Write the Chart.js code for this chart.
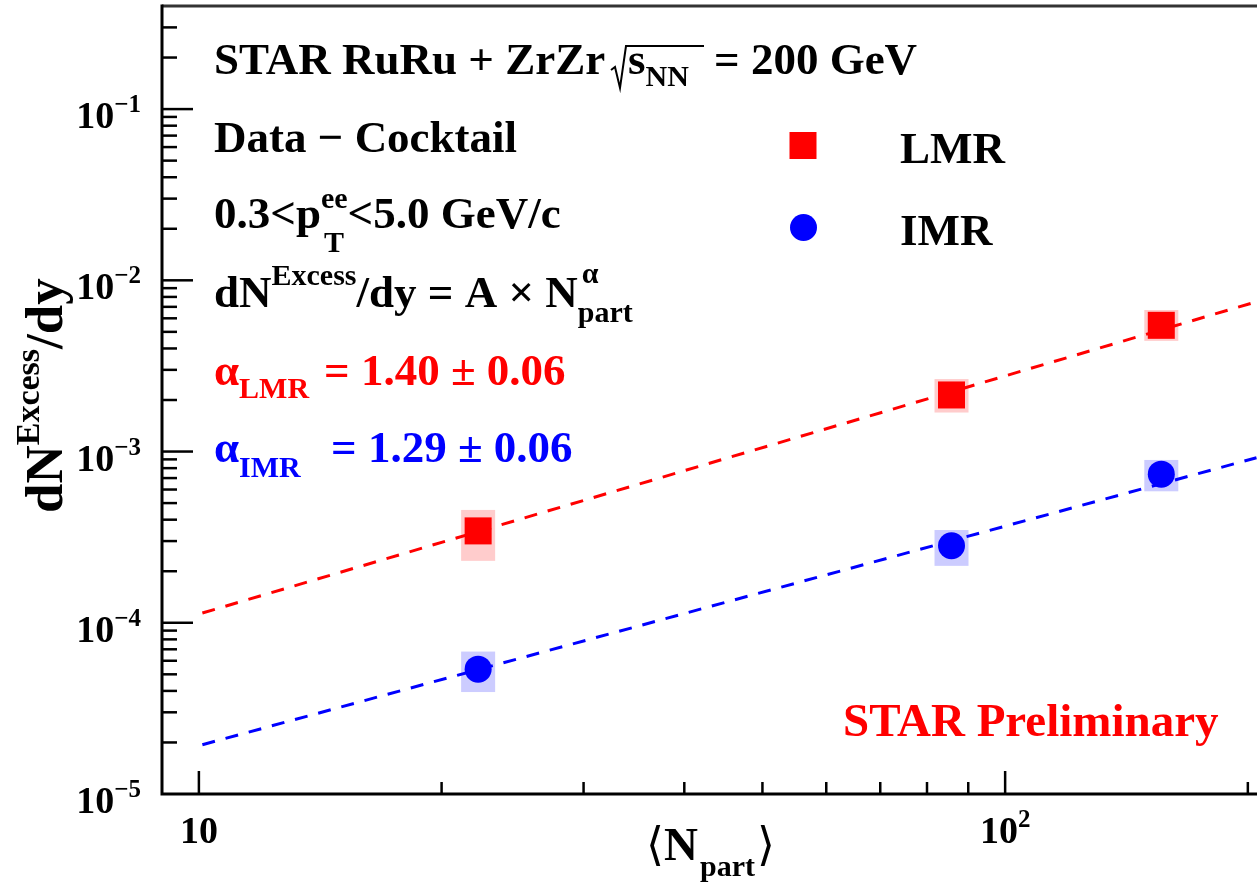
<!DOCTYPE html>
<html>
<head>
<meta charset="utf-8">
<script src="https://cdn.jsdelivr.net/npm/chart.js@4.4.0/dist/chart.umd.min.js"></script>
<style>
  html, body { margin: 0; padding: 0; background: #fff; overflow: hidden; }
  #wrap { width: 1257px; height: 887px; position: relative; }
</style>
</head>
<body>
<div id="wrap"><canvas id="c" width="1257" height="887"></canvas></div>
<script>
// <N_part> of the three centrality classes
const nPart = [22.2, 85.8, 156.2];

// LMR excess yield with systematic band
const lmrYield   = [3.44e-4, 2.14e-3, 5.46e-3];
const lmrSysLow  = [2.30e-4, 1.69e-3, 4.43e-3];
const lmrSysHigh = [4.56e-4, 2.65e-3, 6.71e-3];

// IMR excess yield with systematic band
const imrYield   = [5.36e-5, 2.82e-4, 7.38e-4];
const imrSysLow  = [3.94e-5, 2.15e-4, 5.86e-4];
const imrSysHigh = [6.79e-5, 3.48e-4, 8.93e-4];

// Power-law fits A x N^alpha (straight in log-log), end points
const fitN   = [10.1, 205];
const lmrFit = [1.14e-4, 7.5e-3];
const imrFit = [1.94e-5, 9.2e-4];

// Decade tick labels
const yDecades   = [1e-5, 1e-4, 1e-3, 1e-2, 1e-1];
const yDecadeExp = ['\u22125', '\u22124', '\u22123', '\u22122', '\u22121'];
const xDecades   = [10, 100];
const xDecadeExp = ['', '2'];

const RED = '#ff0000', BLUE = '#0000ff';
const RED_BAND = '#ffcccc', BLUE_BAND = '#ccccff';
const FONT = '"Liberation Serif", "Times New Roman", Times, serif';
const BASE = 45, SUB = 30;

function setFont(ctx, size, weight) {
  ctx.font = `${weight || 'bold'} ${size}px ${FONT}`;
}

// Draws a run of text pieces (normal / raised / lowered / stacked)
function drawRich(ctx, x0, y0, segs, color) {
  let x = x0;
  for (const s of segs) {
    if (s.ax !== undefined) x = s.ax;
    const items = s.stack || [s];
    let adv = 0;
    for (const it of items) {
      setFont(ctx, it.size || BASE, it.weight);
      ctx.fillStyle = it.color || color;
      ctx.fillText(it.t, x + (it.dx || 0), y0 + (it.dy || 0));
      adv = Math.max(adv, ctx.measureText(it.t).width + (it.dx || 0));
    }
    x += adv;
  }
  return x;
}

function pairs(xs, ys) { return xs.map((x, i) => ({ x: x, y: ys[i] })); }

// Systematic boxes behind the markers
const bandPlugin = {
  id: 'bands',
  beforeDatasetsDraw(chart) {
    const { ctx, scales: { x, y } } = chart;
    const halfW = 17;
    const draw = (lo, hi, col) => {
      ctx.fillStyle = col;
      nPart.forEach((n, i) => {
        const px = x.getPixelForValue(n);
        const y1 = y.getPixelForValue(hi[i]);
        const y2 = y.getPixelForValue(lo[i]);
        ctx.fillRect(px - halfW, y1, 2 * halfW, y2 - y1);
      });
    };
    ctx.save();
    draw(lmrSysLow, lmrSysHigh, RED_BAND);
    draw(imrSysLow, imrSysHigh, BLUE_BAND);
    ctx.restore();
  }
};

// Frame, inward ticks, tick labels, titles and annotations
const framePlugin = {
  id: 'frame',
  afterDraw(chart) {
    const { ctx, chartArea: a, scales: { x, y } } = chart;
    ctx.save();
    ctx.lineCap = 'butt';

    // top frame line
    ctx.strokeStyle = '#333';
    ctx.lineWidth = 3;
    ctx.beginPath(); ctx.moveTo(a.left, a.top); ctx.lineTo(a.right, a.top); ctx.stroke();

    // axis lines
    ctx.strokeStyle = '#000';
    ctx.lineWidth = 3;
    ctx.beginPath();
    ctx.moveTo(a.left, a.top - 1.5); ctx.lineTo(a.left, a.bottom);
    ctx.lineTo(a.right, a.bottom);
    ctx.stroke();

    // y ticks
    ctx.lineWidth = 2.5;
    for (let e = -5; e <= -1; e++) {
      for (let m = 1; m <= 9; m++) {
        const v = m * Math.pow(10, e);
        if (v > y.max + 1e-12) continue;
        const py = y.getPixelForValue(v);
        if (py < a.top + 2 || py > a.bottom - 1) continue;
        const len = m === 1 ? 31 : 15;
        ctx.beginPath(); ctx.moveTo(a.left, py); ctx.lineTo(a.left + len, py); ctx.stroke();
      }
    }
    // x ticks
    for (let e = 0; e <= 2; e++) {
      for (let m = 1; m <= 9; m++) {
        const v = m * Math.pow(10, e);
        if (v < x.min || v > x.max) continue;
        const px = x.getPixelForValue(v);
        if (px < a.left + 3) continue;
        const len = m === 1 ? 23 : 12;
        ctx.beginPath(); ctx.moveTo(px, a.bottom); ctx.lineTo(px, a.bottom - len); ctx.stroke();
      }
    }

    ctx.textBaseline = 'alphabetic';
    ctx.fillStyle = '#000';

    // y tick labels
    yDecades.forEach((v, i) => {
      const py = y.getPixelForValue(v);
      const right = 141;
      setFont(ctx, 25);
      const ew = ctx.measureText(yDecadeExp[i]).width;
      ctx.textAlign = 'right';
      ctx.fillText(yDecadeExp[i], right, py + 3);
      setFont(ctx, 38);
      ctx.fillText('10', right - ew, py + 19);
      ctx.textAlign = 'left';
    });

    // x tick labels
    xDecades.forEach((v, i) => {
      const px = x.getPixelForValue(v);
      setFont(ctx, 38);
      const bw = ctx.measureText('10').width;
      setFont(ctx, 25);
      const ew = ctx.measureText(xDecadeExp[i]).width;
      const x0 = px - (bw + ew) / 2;
      setFont(ctx, 38);
      ctx.fillText('10', x0, 843);
      setFont(ctx, 25);
      ctx.fillText(xDecadeExp[i], x0 + bw, 827);
    });

    // x title  <N_part>
    drawRich(ctx, 0, 860, [
      { ax: 646, t: '\u27E8', size: 46, weight: 'normal' },
      { ax: 664, t: 'N', size: 47 },
      { ax: 700, t: 'part', size: SUB, dy: 16 },
      { ax: 757, t: '\u27E9', size: 46, weight: 'normal' }
    ], '#000');

    // y title  dN^Excess/dy
    ctx.save();
    ctx.translate(62, 513);
    ctx.rotate(-Math.PI / 2);
    drawRich(ctx, 0, 0, [
      { t: 'dN', size: 53 },
      { t: 'Excess', size: 34, dy: -23 },
      { t: '/dy', size: 53 }
    ], '#000');
    ctx.restore();

    // text block
    const x0 = 214;
    drawRich(ctx, x0, 74, [{ t: 'STAR RuRu + ZrZr' }], '#000');
    // radical over s_NN
    ctx.lineWidth = 2;
    ctx.strokeStyle = '#000';
    ctx.beginPath();
    ctx.moveTo(611, 70); ctx.lineTo(615, 67); ctx.lineTo(620, 88);
    ctx.lineTo(626, 46); ctx.lineTo(704, 46);
    ctx.stroke();
    drawRich(ctx, 0, 74, [
      { ax: 628, t: 's' },
      { t: 'NN', size: SUB, dy: 12 },
      { ax: 714, t: '= 200 GeV' }
    ], '#000');

    drawRich(ctx, x0, 152, [{ t: 'Data \u2212 Cocktail' }], '#000');

    drawRich(ctx, x0, 228, [
      { t: '0.3<p' },
      { stack: [ { t: 'ee', size: SUB, dy: -20 }, { t: 'T', size: SUB, dy: 24, dx: 3 } ] },
      { t: '<5.0 GeV/c' }
    ], '#000');

    drawRich(ctx, x0, 307, [
      { t: 'dN' },
      { t: 'Excess', size: SUB, dy: -22 },
      { t: '/dy = A \u00D7 N' },
      { stack: [ { t: '\u03B1', size: SUB, dy: -24, dx: 4 }, { t: 'part', size: SUB, dy: 15 } ] }
    ], '#000');

    drawRich(ctx, x0, 385, [
      { t: '\u03B1' },
      { t: 'LMR', size: SUB, dy: 13 },
      { ax: 324, t: '= 1.40 \u00B1 0.06' }
    ], RED);

    drawRich(ctx, x0, 462, [
      { t: '\u03B1' },
      { t: 'IMR', size: SUB, dy: 15 },
      { ax: 331, t: '= 1.29 \u00B1 0.06' }
    ], BLUE);

    // legend
    ctx.fillStyle = RED;
    ctx.fillRect(803 - 13.5, 145.5 - 13.5, 27, 27);
    ctx.fillStyle = BLUE;
    ctx.beginPath(); ctx.arc(803.5, 227.5, 13.5, 0, Math.PI * 2); ctx.fill();
    drawRich(ctx, 900, 163, [{ t: 'LMR' }], '#000');
    drawRich(ctx, 900, 245, [{ t: 'IMR' }], '#000');

    // preliminary tag
    drawRich(ctx, 843, 736, [{ t: 'STAR Preliminary', size: 47 }], RED);

    ctx.restore();
  }
};

new Chart(document.getElementById('c'), {
  type: 'scatter',
  data: {
    datasets: [
      {
        label: 'LMR',
        data: pairs(nPart, lmrYield),
        pointStyle: 'rect',
        pointRadius: 19.1,
        pointBackgroundColor: RED,
        pointBorderWidth: 0,
        showLine: false
      },
      {
        label: 'IMR',
        data: pairs(nPart, imrYield),
        pointStyle: 'circle',
        pointRadius: 13.5,
        pointBackgroundColor: BLUE,
        pointBorderWidth: 0,
        showLine: false
      },
      {
        label: 'LMR fit',
        data: pairs(fitN, lmrFit),
        showLine: true,
        borderColor: RED,
        borderWidth: 3,
        borderDash: [13, 11],
        pointRadius: 0
      },
      {
        label: 'IMR fit',
        data: pairs(fitN, imrFit),
        showLine: true,
        borderColor: BLUE,
        borderWidth: 3,
        borderDash: [13, 11],
        pointRadius: 0
      }
    ]
  },
  options: {
    responsive: false,
    devicePixelRatio: 1,
    animation: false,
    events: [],
    layout: { autoPadding: false, padding: { left: 162, right: 0, top: 6, bottom: 93 } },
    plugins: { legend: { display: false }, tooltip: { enabled: false } },
    scales: {
      x: { type: 'logarithmic', min: 9, max: 205.3, display: false },
      y: { type: 'logarithmic', min: 1e-5, max: 0.4, display: false }
    }
  },
  plugins: [bandPlugin, framePlugin]
});
</script>
</body>
</html>
